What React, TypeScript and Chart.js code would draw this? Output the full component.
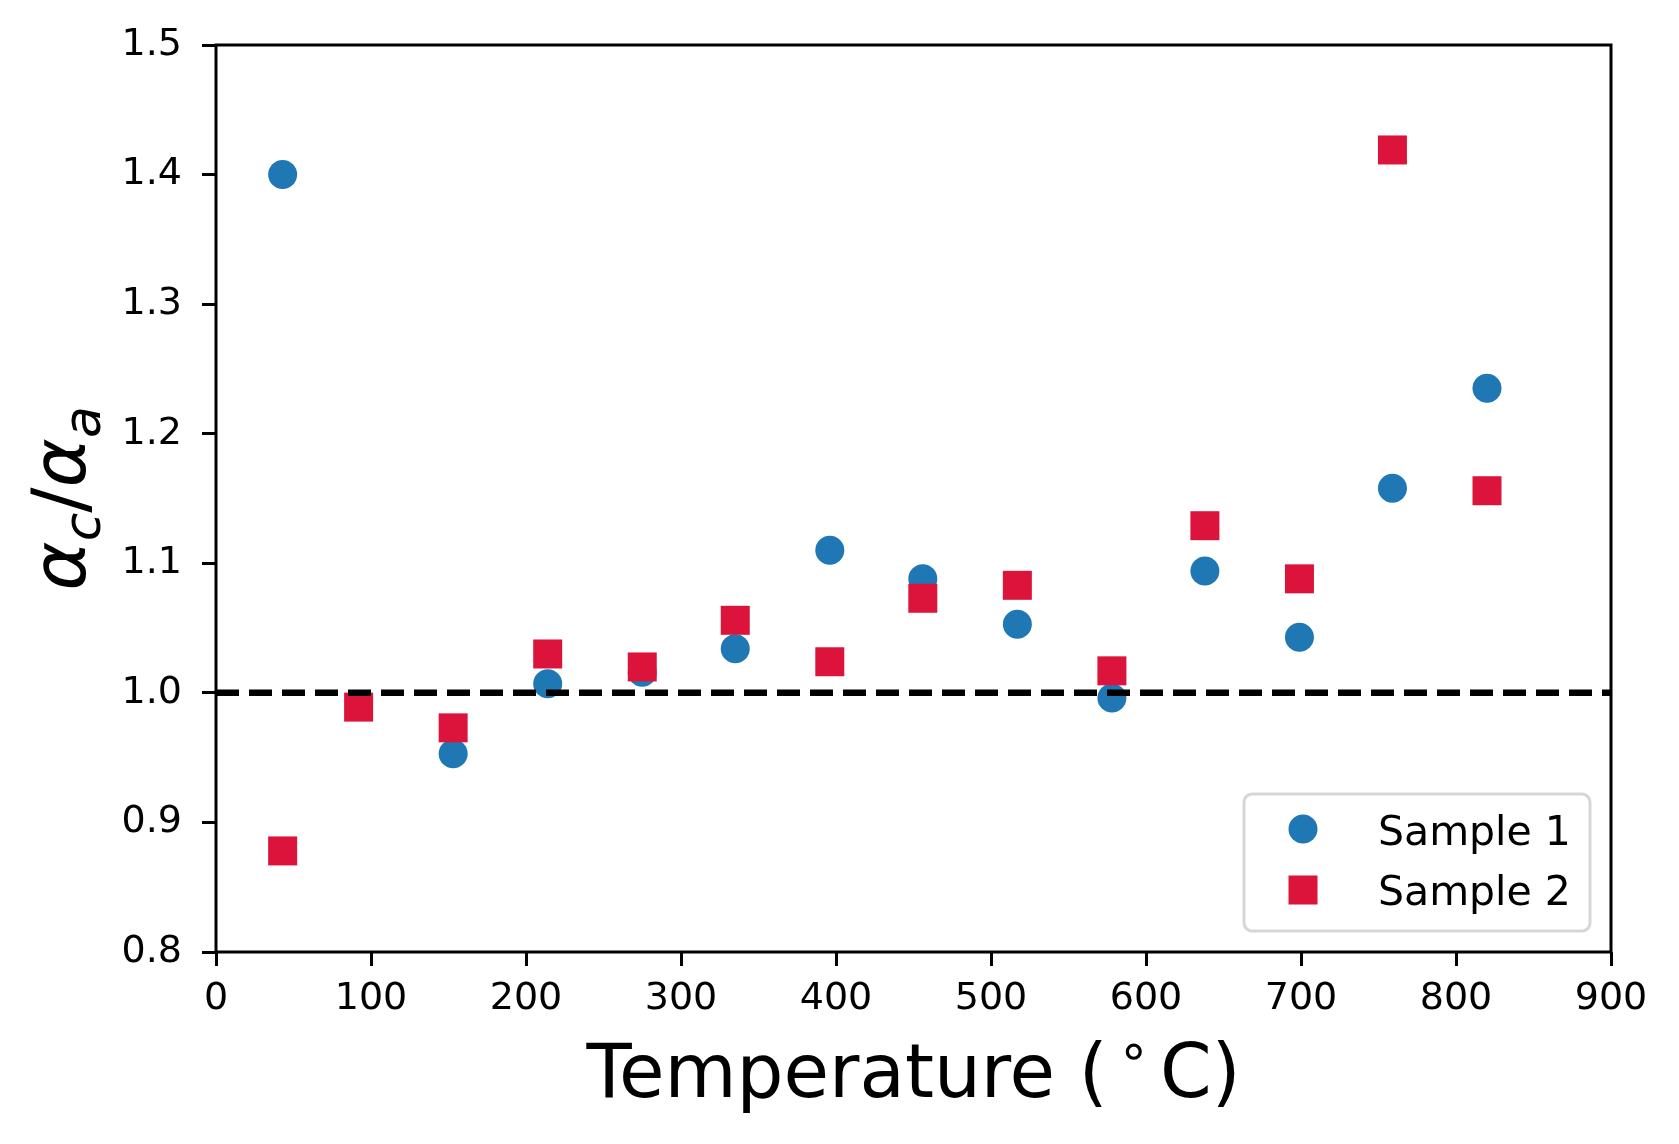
import { useEffect, useRef } from "react"
import { Chart, registerables } from "chart.js"

Chart.register(...registerables)

// data
const sampleNames = ["Sample 1", "Sample 2"]
const temps1 = [43, 153, 214, 275, 335, 396, 456, 517, 578, 638, 699, 759, 820]
const ratio1 = [1.4, 0.953, 1.007, 1.016, 1.034, 1.11, 1.088, 1.053, 0.996, 1.094, 1.043, 1.158, 1.235]
const temps2 = [43, 92, 153, 214, 275, 335, 396, 456, 517, 578, 638, 699, 759, 820]
const ratio2 = [0.878, 0.989, 0.973, 1.03, 1.02, 1.056, 1.024, 1.073, 1.083, 1.017, 1.129, 1.088, 1.419, 1.156]
const xTicks = [0, 100, 200, 300, 400, 500, 600, 700, 800, 900]
const yTicks = [0.8, 0.9, 1.0, 1.1, 1.2, 1.3, 1.4, 1.5]
const refLevel = 1.0

const FONT = "'DejaVu Sans', sans-serif"
const BLUE = "#1f77b4"
const RED = "#dc143c"

type Run = { text: string; size: number; italic?: boolean; shift?: number; gap?: number }

function drawRuns(ctx: CanvasRenderingContext2D, runs: Run[], cx: number, baseline: number) {
  const fontOf = (r: Run) => `${r.italic ? "italic " : ""}${r.size}px ${FONT}`
  let total = 0
  const widths = runs.map((r) => {
    ctx.font = fontOf(r)
    const w = ctx.measureText(r.text).width
    total += (r.gap || 0) + w
    return w
  })
  let x = cx - total / 2
  runs.forEach((r, i) => {
    x += r.gap || 0
    ctx.font = fontOf(r)
    ctx.fillText(r.text, x, baseline + (r.shift || 0))
    x += widths[i]
  })
}

const xTitle: Run[] = [
  { text: "Temperature (", size: 74 },
  { text: "\u2218", size: 52, shift: -29, gap: 10 },
  { text: "C)", size: 74, gap: 10 },
]

const yTitle: Run[] = [
  { text: "α", size: 75, italic: true },
  { text: "c", size: 52, italic: true, shift: 15 },
  { text: "/", size: 75 },
  { text: "α", size: 75, italic: true },
  { text: "a", size: 52, italic: true, shift: 15 },
]

const decorations = {
  id: "decorations",
  afterDatasetsDraw(chart: Chart) {
    const { ctx, chartArea: ca } = chart
    ctx.save()
    ctx.strokeStyle = "#000"
    ctx.lineWidth = 3
    ctx.strokeRect(ca.left, ca.top, ca.right - ca.left, ca.bottom - ca.top)
    ctx.restore()
  },
  afterDraw(chart: Chart) {
    const { ctx, chartArea: ca } = chart
    ctx.save()
    ctx.fillStyle = "#000"
    ctx.textBaseline = "alphabetic"
    ctx.textAlign = "left"

    // axis titles
    drawRuns(ctx, xTitle, (ca.left + ca.right) / 2, ca.bottom + 145)
    ctx.save()
    ctx.translate(85, (ca.top + ca.bottom) / 2)
    ctx.rotate(-Math.PI / 2)
    drawRuns(ctx, yTitle, 0, 0)
    ctx.restore()

    // legend box, lower right
    const w = 346
    const h = 137
    const left = ca.right - 21 - w
    const top = ca.bottom - 21 - h
    ctx.beginPath()
    ctx.roundRect(left, top, w, h, 8)
    ctx.fillStyle = "rgba(255,255,255,0.8)"
    ctx.fill()
    ctx.strokeStyle = "rgba(204,204,204,0.8)"
    ctx.lineWidth = 3
    ctx.stroke()

    const rows = [top + 35, top + 96]
    const baselines = [top + 51, top + 111]
    const mx = left + 59
    ctx.fillStyle = BLUE
    ctx.beginPath()
    ctx.arc(mx, rows[0], 14.5, 0, Math.PI * 2)
    ctx.fill()
    ctx.fillStyle = RED
    ctx.fillRect(mx - 14.5, rows[1] - 14.5, 29, 29)

    ctx.fillStyle = "#000"
    ctx.font = `41px ${FONT}`
    sampleNames.forEach((name, i) => ctx.fillText(name, left + 134, baselines[i]))
    ctx.restore()
  },
}

export default function App() {
  const canvasRef = useRef<HTMLCanvasElement>(null)
  const chartRef = useRef<Chart | null>(null)

  useEffect(() => {
    document.body.style.margin = "0"
    if (!canvasRef.current) return
    const ctx = canvasRef.current.getContext("2d")
    if (!ctx) return
    if (chartRef.current) chartRef.current.destroy()

    const tickFont = { family: FONT, size: 38 }

    chartRef.current = new Chart(ctx, {
      type: "scatter",
      data: {
        datasets: [
          {
            type: "line",
            label: "ref",
            data: [
              { x: xTicks[0], y: refLevel },
              { x: xTicks[xTicks.length - 1], y: refLevel },
            ],
            borderColor: "#000",
            borderWidth: 6.5,
            borderDash: [23, 10],
            pointRadius: 0,
            fill: false,
            order: 0,
          },
          {
            label: sampleNames[1],
            data: temps2.map((t, i) => ({ x: t, y: ratio2[i] })),
            pointStyle: "rect",
            pointRadius: 20.5,
            backgroundColor: RED,
            borderWidth: 0,
            order: 1,
          },
          {
            label: sampleNames[0],
            data: temps1.map((t, i) => ({ x: t, y: ratio1[i] })),
            pointStyle: "circle",
            pointRadius: 14.5,
            backgroundColor: BLUE,
            borderWidth: 0,
            order: 2,
          },
        ],
      },
      options: {
        responsive: false,
        animation: false,
        devicePixelRatio: 1,
        events: [],
        layout: { padding: { left: 0, top: 45, right: 68, bottom: 0 } },
        plugins: {
          legend: { display: false },
          tooltip: { enabled: false },
        },
        scales: {
          x: {
            type: "linear",
            min: xTicks[0],
            max: xTicks[xTicks.length - 1],
            afterBuildTicks: (scale) => {
              scale.ticks = xTicks.map((v) => ({ value: v }))
            },
            afterFit: (scale) => {
              scale.height = 192
            },
            border: { display: false },
            grid: {
              display: true,
              drawOnChartArea: false,
              drawTicks: true,
              tickLength: 14,
              tickWidth: 3,
              tickColor: "#000",
            },
            ticks: {
              autoSkip: false,
              maxRotation: 0,
              padding: 10,
              color: "#000",
              font: tickFont,
              callback: (v) => String(v),
            },
          },
          y: {
            type: "linear",
            min: yTicks[0],
            max: yTicks[yTicks.length - 1],
            afterBuildTicks: (scale) => {
              scale.ticks = yTicks.map((v) => ({ value: v }))
            },
            afterFit: (scale) => {
              scale.width = 216
            },
            border: { display: false },
            grid: {
              display: true,
              drawOnChartArea: false,
              drawTicks: true,
              tickLength: 14,
              tickWidth: 3,
              tickColor: "#000",
            },
            ticks: {
              autoSkip: false,
              padding: 20,
              color: "#000",
              font: tickFont,
              callback: (v) => Number(v).toFixed(1),
            },
          },
        },
      },
      plugins: [decorations],
    })

    return () => {
      if (chartRef.current) {
        chartRef.current.destroy()
        chartRef.current = null
      }
    }
  }, [])

  return (
    <div style={{ position: "absolute", left: 0, top: 0, width: 1679, height: 1144, background: "#fff" }}>
      <canvas ref={canvasRef} width={1679} height={1144} style={{ display: "block" }}></canvas>
    </div>
  )
}
